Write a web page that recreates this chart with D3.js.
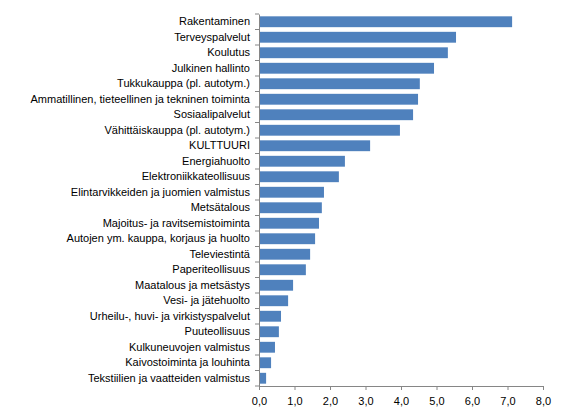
<!DOCTYPE html>
<html><head><meta charset="utf-8">
<script src="https://cdn.jsdelivr.net/npm/d3@7"></script>
<style>body{margin:0;background:#fff}</style></head>
<body><svg id="c" width="569" height="418"></svg>
<script>
const categories=["Rakentaminen","Terveyspalvelut","Koulutus","Julkinen hallinto","Tukkukauppa (pl. autotym.)","Ammatillinen, tieteellinen ja tekninen toiminta","Sosiaalipalvelut","Vähittäiskauppa (pl. autotym.)","KULTTUURI","Energiahuolto","Elektroniikkateollisuus","Elintarvikkeiden ja juomien valmistus","Metsätalous","Majoitus- ja ravitsemistoiminta","Autojen ym. kauppa, korjaus ja huolto","Televiestintä","Paperiteollisuus","Maatalous ja metsästys","Vesi- ja jätehuolto","Urheilu-, huvi- ja virkistyspalvelut","Puuteollisuus","Kulkuneuvojen valmistus","Kaivostoiminta ja louhinta","Tekstiilien ja vaatteiden valmistus"];
const values=[7.13,5.55,5.32,4.93,4.53,4.48,4.34,3.97,3.13,2.42,2.25,1.83,1.77,1.69,1.58,1.44,1.32,0.96,0.82,0.62,0.56,0.45,0.34,0.2];
const tickValues=[0,1,2,3,4,5,6,7,8];
const svg=d3.select("#c");
const x=d3.scaleLinear().domain([0,8]).range([259,543]);
const y=d3.scaleBand().domain(categories).range([14,386]).paddingInner(0.3).paddingOuter(0.15);
svg.selectAll("rect").data(values).join("rect")
 .attr("x",x(0)).attr("y",(d,i)=>y(categories[i])).attr("width",d=>x(d)-x(0)).attr("height",y.bandwidth()).attr("fill","#4f81bd");
const fmt=d=>d.toFixed(1).replace(".",",");
const xa=svg.append("g").attr("transform","translate(0,386)").call(d3.axisBottom(x).tickValues(tickValues).tickFormat(fmt).tickSize(4).tickSizeOuter(0));
const ya=svg.append("g").attr("transform","translate(259,0)").call(d3.axisLeft(y).tickSize(0).tickPadding(9));
[xa,ya].forEach(a=>{a.selectAll("path,line").attr("stroke","#868686");a.selectAll("text").attr("font-family","Liberation Sans, Arial").attr("font-size","11px").attr("fill","#000");});
xa.selectAll("text").attr("dy","1.1em");
// y ticks between categories
const edges=categories.map(c=>y(c)-y.step()*y.paddingInner()/2).concat([386]);
svg.append("g").selectAll("line").data(edges).join("line").attr("x1",255).attr("x2",259).attr("y1",d=>d).attr("y2",d=>d).attr("stroke","#868686");
</script></body></html>
